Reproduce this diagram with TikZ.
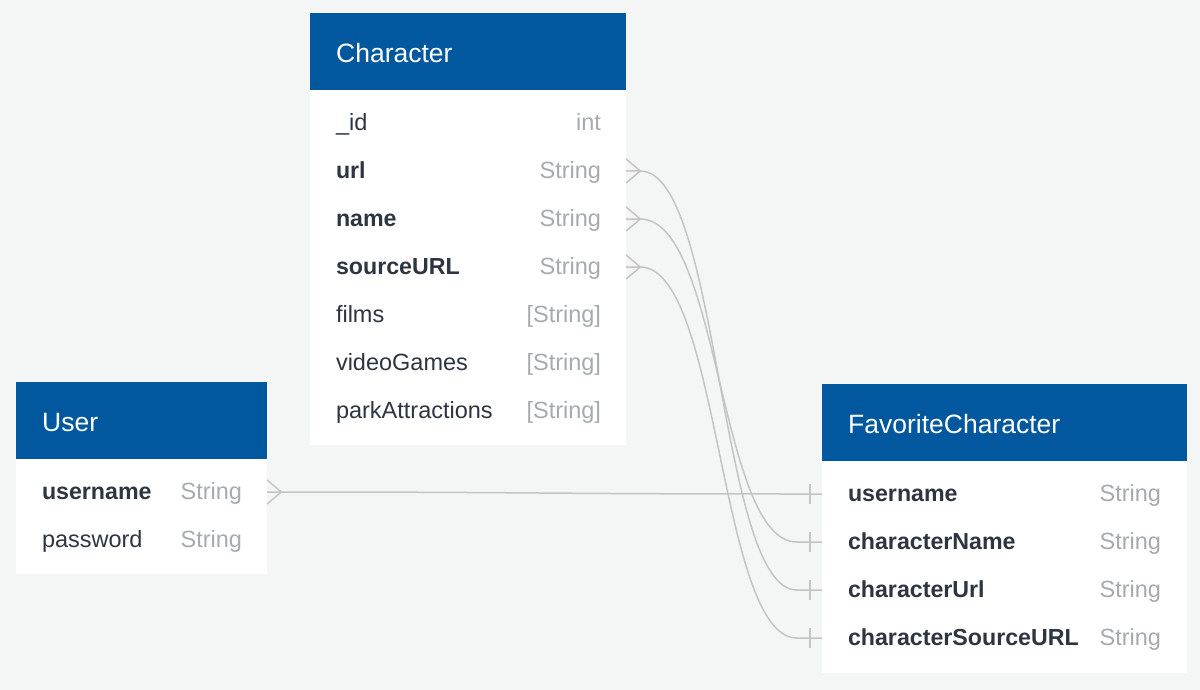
\documentclass[tikz,border=0pt]{standalone}
\usepackage{fontspec}
\setmainfont{Liberation Sans}
\usetikzlibrary{calc}
\definecolor{hdrblue}{HTML}{01589F}
\definecolor{canvas}{HTML}{F4F6F5}
\definecolor{fieldtxt}{HTML}{2D3540}
\definecolor{typetxt}{HTML}{A6ABB0}
\definecolor{relline}{HTML}{C4C4C4}

\begin{document}
\begin{tikzpicture}[x=1pt,y=-1pt,
    header/.style={fill=hdrblue, inner sep=0pt, anchor=north west, minimum height=77pt},
    body/.style={fill=white, inner sep=0pt, anchor=north west},
    row/.style={inner sep=0pt, minimum height=48pt},
    title/.style={text=white, inner sep=0pt, font=\fontsize{26.5}{30}\selectfont, anchor=base west},
    fname/.style={text=fieldtxt, inner sep=0pt, font=\fontsize{23.5}{28}\selectfont, anchor=base west},
    keyname/.style={text=fieldtxt, inner sep=0pt, font=\fontsize{23.2}{28}\selectfont\bfseries, anchor=base west},
    ftype/.style={text=typetxt, inner sep=0pt, font=\fontsize{23.5}{28}\selectfont, anchor=base east},
    rel/.style={relline, line width=1.5pt}]

    % canvas
    \fill[canvas] (0,0) rectangle (1200,690);
    \useasboundingbox (0,0) rectangle (1200,690);

    % Character table
    \node[header, minimum width=316pt] (character) at (310,13) {};
    \node[title] at ($(character.west)+(26,10.5)$) {Character};
    \node[body, minimum width=316pt, minimum height=355pt] at (310,90) {};
    \foreach \key/\name/\type/\sty [count=\i] in {id/\_id/int/fname, url/url/String/keyname,
        name/name/String/keyname, sourceURL/sourceURL/String/keyname, films/films/{[String]}/fname,
        videoGames/videoGames/{[String]}/fname, parkAttractions/parkAttractions/{[String]}/fname}{
        \node[row, minimum width=316pt] (ch-\key) at (468,{75+48*\i}) {};
        \node[\sty] at ($(ch-\key.west)+(26,7.5)$) {\name};
        \node[ftype] at ($(ch-\key.east)+(-25,7.5)$) {\type};
    }

    % User table
    \node[header, minimum width=251pt] (user) at (16,382) {};
    \node[title] at ($(user.west)+(26,10.5)$) {User};
    \node[body, minimum width=251pt, minimum height=115pt] at (16,459) {};
    \foreach \key/\sty [count=\i] in {username/keyname, password/fname}{
        \node[row, minimum width=251pt] (us-\key) at (141.5,{444+48*\i}) {};
        \node[\sty] at ($(us-\key.west)+(26,7.5)$) {\key};
        \node[ftype] at ($(us-\key.east)+(-25,7.5)$) {String};
    }

    % FavoriteCharacter table
    \node[header, minimum width=365pt] (favorite) at (822,384) {};
    \node[title] at ($(favorite.west)+(26,10.5)$) {FavoriteCharacter};
    \node[body, minimum width=365pt, minimum height=212pt] at (822,461) {};
    \foreach \key [count=\i] in {username, characterName, characterUrl, characterSourceURL}{
        \node[row, minimum width=365pt] (fc-\key) at (1004.5,{446+48*\i}) {};
        \node[keyname] at ($(fc-\key.west)+(26,7.5)$) {\key};
        \node[ftype] at ($(fc-\key.east)+(-26,7.5)$) {String};
    }

    % many side (crow's feet)
    \foreach \src in {ch-url, ch-name, ch-sourceURL, us-username}
        \draw[rel] ($(\src.east)+(0,-12)$) -- ($(\src.east)+(14,0)$) -- ($(\src.east)+(0,12)$)
            (\src.east) -- ($(\src.east)+(14,0)$);

    % one side (bars)
    \foreach \dst in {username, characterName, characterUrl, characterSourceURL}
        \draw[rel] ($(fc-\dst.west)+(-12,-10)$) -- ($(fc-\dst.west)+(-12,10)$);

    % relations
    \draw[rel] ($(us-username.east)+(14,0)$) .. controls +(250,0) and +(-250,0) .. ($(fc-username.west)+(-25,0)$) -- (fc-username.west);
    \draw[rel] ($(ch-url.east)+(14,0)$) .. controls +(80,0) and +(-78,0) .. ($(fc-characterUrl.west)+(-25,0)$) -- (fc-characterUrl.west);
    \draw[rel] ($(ch-name.east)+(14,0)$) .. controls +(80,0) and +(-78,0) .. ($(fc-characterName.west)+(-25,0)$) -- (fc-characterName.west);
    \draw[rel] ($(ch-sourceURL.east)+(14,0)$) .. controls +(80,0) and +(-78,0) .. ($(fc-characterSourceURL.west)+(-25,0)$) -- (fc-characterSourceURL.west);
\end{tikzpicture}
\end{document}
